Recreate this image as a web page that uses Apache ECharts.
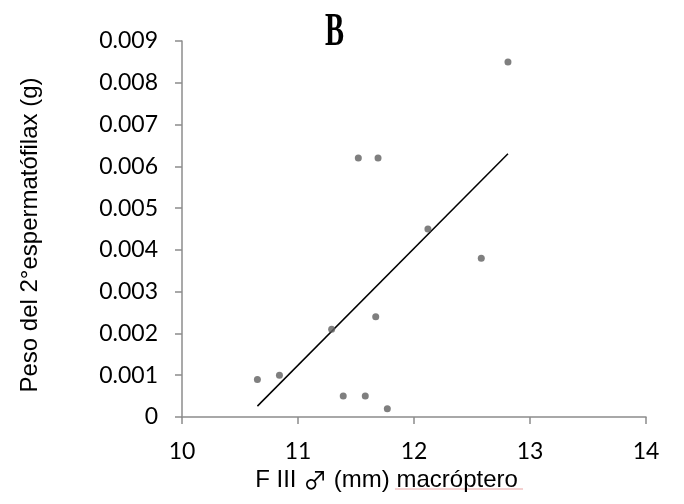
<!DOCTYPE html>
<html>
<head>
<meta charset="utf-8">
<script src="https://cdn.jsdelivr.net/npm/echarts@6/dist/echarts.min.js"></script>
<style>
  html, body { margin: 0; padding: 0; background: #fff; }
  #chart { width: 684px; height: 504px; }
</style>
</head>
<body>
<div id="chart"></div>
<script>
// F III length (mm) and weight of 2nd spermatophylax (g)
const lengths = [10.65, 10.84, 11.29, 11.39, 11.52, 11.58, 11.67, 11.69, 11.77, 12.12, 12.58, 12.81];
const weights = [0.0009, 0.0010, 0.0021, 0.0005, 0.0062, 0.0005, 0.0024, 0.0062, 0.0002, 0.0045, 0.0038, 0.0085];
// linear trendline end points
const trendX = [10.65, 12.81];
const trendY = [0.00026, 0.0063];

const chart = echarts.init(document.getElementById("chart"));
const axisGray = "#8c8c8c";
const font = "'Liberation Sans', Arial, sans-serif";
const tickFont = "Lato, 'Liberation Sans', sans-serif";

const option = {
  animation: false,
  grid: { left: 182, right: 38, top: 41, bottom: 87 },
  graphic: [
    {
      type: "text",
      left: 325,
      top: 11,
      scaleX: 0.68,
      scaleY: 1.08,
      style: {
        text: "B",
        font: "bold 42px 'Liberation Serif', 'DejaVu Serif', serif",
        fill: "#000",
      },
    },
    {
      // spell-check underline seen in the source
      type: "line",
      shape: { x1: 395, y1: 489, x2: 523, y2: 489 },
      style: { stroke: "#e9a3a3", lineWidth: 1 },
    },
  ],
  xAxis: {
    type: "value",
    min: 10,
    max: 14,
    interval: 1,
    name: "F III {s|\u2642} (mm) macróptero",
    nameLocation: "middle",
    nameGap: 49,
    nameTextStyle: {
      fontFamily: font,
      fontSize: 24,
      color: "#000",
      padding: [0, 55, 0, 0],
      rich: {
        s: { fontFamily: "'Noto Sans CJK JP', 'DejaVu Sans', sans-serif", fontSize: 24, color: "#000" },
      },
    },
    axisLine: { show: true, lineStyle: { color: axisGray, width: 1.5 } },
    axisTick: { show: true, length: 7, lineStyle: { color: axisGray, width: 1.5 } },
    axisLabel: { fontFamily: tickFont, fontSize: 23, color: "#000", margin: 23 },
    splitLine: { show: false },
  },
  yAxis: {
    type: "value",
    min: 0,
    max: 0.009,
    interval: 0.001,
    name: "Peso del 2°espermatófilax (g)",
    nameLocation: "middle",
    nameGap: 140,
    nameTextStyle: {
      fontFamily: font,
      fontSize: 24,
      color: "#000",
      padding: [0, 12, 0, 0],
    },
    axisLine: { show: true, lineStyle: { color: axisGray, width: 1.5 } },
    axisTick: { show: true, length: 7, lineStyle: { color: axisGray, width: 1.5 } },
    axisLabel: {
      fontFamily: tickFont,
      fontSize: 23,
      color: "#000",
      margin: 24,
      formatter: (v) => (v === 0 ? "0" : v.toFixed(3)),
    },
    splitLine: { show: false },
  },
  series: [
    {
      type: "scatter",
      data: lengths.map((x, i) => [x, weights[i]]),
      symbol: "circle",
      symbolSize: 7,
      itemStyle: { color: "#5f5f5f" },
      z: 3,
    },
    {
      type: "line",
      data: trendX.map((x, i) => [x, trendY[i]]),
      symbol: "none",
      lineStyle: { color: "#000", width: 1.5 },
      z: 2,
    },
  ],
};

chart.setOption(option);
</script>
</body>
</html>
